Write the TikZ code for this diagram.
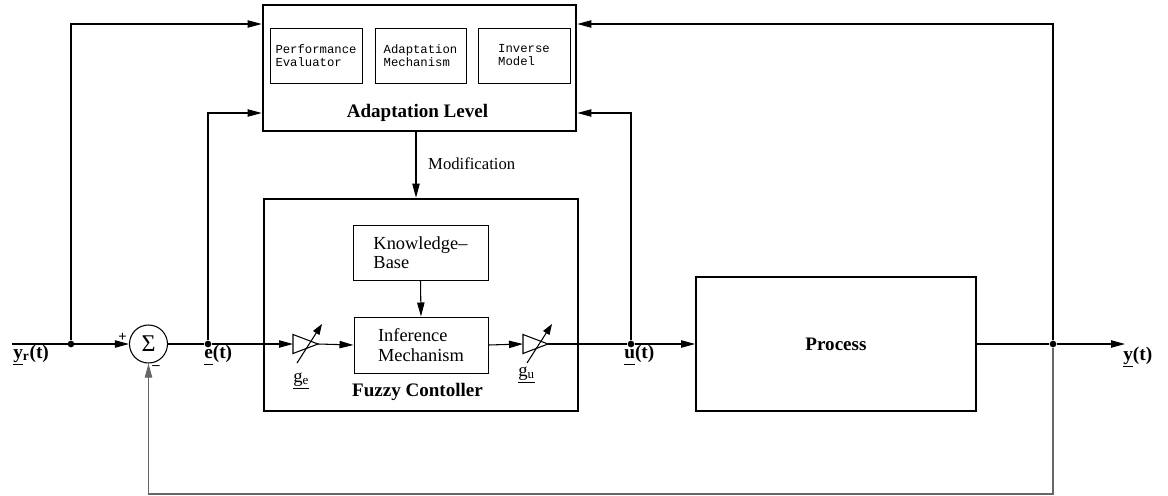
\documentclass[tikz,border=0pt]{standalone}
\usepackage{fontspec}
\setmainfont{Liberation Serif}
\setmonofont{Liberation Mono}
\usetikzlibrary{arrows.meta}

% underline every signal name at the same depth
\newcommand{\ulvar}[1]{\underline{\vphantom{y}#1}}

\begin{document}
\begin{tikzpicture}[x=0.75pt,y=-0.75pt,
  tip/.style={-{Triangle[length=10.5pt,width=5.5pt]}},
  wire/.style={line width=0.8pt},
  sig/.style={wire,tip},
  heavybox/.style={draw,line width=2pt,inner sep=0pt},
  procbox/.style={draw,line width=1.3pt,inner sep=0pt},
  subbox/.style={draw,line width=0.75pt,inner sep=0pt,align=left,
    font=\fontsize{13.8pt}{14.5pt}\selectfont},
  codebox/.style={draw,line width=0.75pt,inner sep=0pt,align=left,
    minimum width=69pt,minimum height=41.25pt,
    font=\ttfamily\fontsize{9.2pt}{9.75pt}\selectfont},
  title/.style={font=\bfseries\fontsize{14.3pt}{16pt}\selectfont},
  varlabel/.style={font=\bfseries\fontsize{14.5pt}{16pt}\selectfont,inner sep=0pt},
  gainlabel/.style={font=\fontsize{14pt}{16pt}\selectfont,inner sep=0pt},
  sign/.style={font=\bfseries\fontsize{11pt}{11pt}\selectfont,inner sep=0pt},
  dot/.style={circle,fill,inner sep=0pt,minimum size=5pt},
  gain/.style={draw,line width=0.8pt,fill=white},
  knob/.style={line width=0.8pt,-{Triangle[length=8pt,width=5.5pt]}}
]
\useasboundingbox (0,0) rectangle (1168,496);

% ---------- adaptation level ----------
\node[heavybox,minimum width=234.75pt,minimum height=94.5pt] (adapt) at (419.5,68) {};
\node[codebox] (perf) at (316,55.5) {Performance\\Evaluator};
\node[codebox,minimum width=68.25pt] (mech) at (420.5,55.5) {Adaptation\\Mechanism};
\node[codebox] (inv) at (524,55.5) {Inverse\\Model};
\node[title] (adlabel) at (417.5,113) {Adaptation Level};

% ---------- fuzzy controller ----------
\node[heavybox,minimum width=235.5pt,minimum height=159pt] (fuzzy) at (421,305) {};
\node[subbox,minimum width=101.25pt,minimum height=41.25pt] (kb) at (420.5,252.5) {Knowledge--\\Base};
\node[subbox,minimum width=100.5pt,minimum height=42pt] (inf) at (421,345) {Inference\\Mechanism};
\node[title] (fclabel) at (417.5,392) {Fuzzy Contoller};

% ---------- process ----------
\node[procbox,minimum width=210pt,minimum height=100.5pt] (proc) at (836,344) {};
\node[title] at (proc) {Process};

% ---------- summing junction ----------
\node[draw,circle,line width=0.8pt,minimum size=28.5pt,inner sep=0pt,
      font=\fontsize{18pt}{18pt}\selectfont] (sum) at (148.5,344) {Σ};
\node[sign] (plus) at (122.5,337) {+};
\node[sign] (minus) at (156,368) {--};

% ---------- junction points and bends ----------
\coordinate (yrin) at (12,344);
\node[dot] (yrdot) at (71,344) {};
\coordinate (yrtop) at (71,24);
\node[dot] (edot) at (208,344) {};
\coordinate (etop) at (208,113);
\node[dot] (udot) at (631,344) {};
\coordinate (utop) at (631,113);
\node[dot] (ydot) at (1053,344) {};
\coordinate (ytop) at (1053,24);
\coordinate (yout) at (1125,344);
\coordinate (fbr) at (1053,494);
\coordinate (fbl) at (148.5,494);

% ---------- gains ----------
\coordinate (gein) at (293,344);
\coordinate (geout) at (318,344);
\coordinate (guin) at (523,344);
\coordinate (guout) at (548,344);
\draw[gain] (293,334.5) -- (geout) -- (293,353.5) -- cycle;
\draw[gain] (523,334.5) -- (guout) -- (523,353.5) -- cycle;
\draw[knob] (297,363) -- (322,324);
\draw[knob] (527,363) -- (552,324);

% ---------- forward path ----------
\draw[sig] (yrin) -- (sum.west);
\draw[wire] (sum.east) -- (edot);
\draw[sig] (edot) -- (gein);
\draw[sig] (geout) -- (inf.west);
\draw[sig] (inf.east) -- (guin);
\draw[wire] (guout) -- (udot);
\draw[sig] (udot) -- (proc.west);
\draw[wire] (proc.east) -- (ydot);
\draw[sig] (ydot) -- (yout);
\draw[sig] (kb.south) -- (inf.north);
\draw[sig] (adapt.south -| 416,0) -- (fuzzy.north -| 416,0);
\node[font=\fontsize{12.5pt}{14pt}\selectfont,inner sep=0pt] (modif) at (471.7,164) {Modification};

% ---------- signals to the adaptation level ----------
\draw[sig] (yrdot) -- (yrtop) -- (yrtop -| adapt.west);
\draw[sig] (edot) -- (etop) -- (etop -| adapt.west);
\draw[sig] (udot) -- (utop) -- (utop -| adapt.east);
\draw[sig] (ydot) -- (ytop) -- (ytop -| adapt.east);

% ---------- feedback ----------
\draw[sig,draw=black!60] (ydot) -- (fbr) -- (fbl) -- (sum.south);

% ---------- signal names ----------
\node[varlabel,anchor=base west] (yrlab) at (13,358) {\ulvar{y}\textsubscript{r}(t)};
\node[varlabel,anchor=base west] (elab) at (204,358) {\ulvar{e}(t)};
\node[varlabel,anchor=base west] (ulab) at (624,358) {\ulvar{u}(t)};
\node[varlabel,anchor=base west] (ylab) at (1123,360) {\ulvar{y}(t)};
\node[gainlabel,anchor=base west] (gelab) at (293,382) {\ulvar{g\textsubscript{e}}};
\node[gainlabel,anchor=base west] (gulab) at (518,376) {\ulvar{g\textsubscript{u}}};
\end{tikzpicture}
\end{document}
